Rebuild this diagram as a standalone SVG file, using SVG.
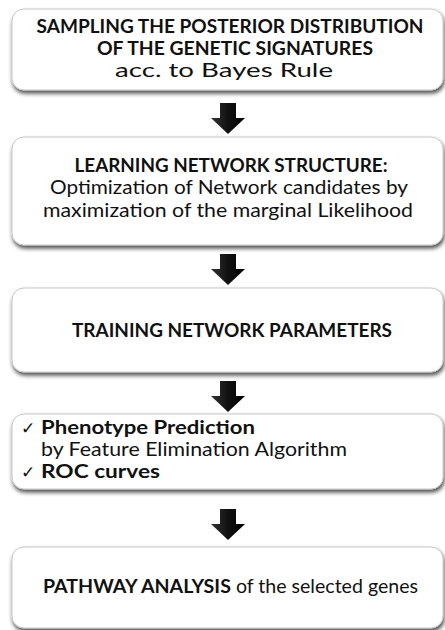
<svg xmlns="http://www.w3.org/2000/svg" width="445" height="630" viewBox="0 0 445 630">
<style>
.box{fill:#fff;stroke:#c8c8c8;stroke-width:1;filter:url(#sh)}
text{font-family:Lato,"Open Sans","Liberation Sans",sans-serif;font-size:19px;fill:#111}
.b{font-weight:bold}
.c{text-anchor:middle}
.chk{font-family:"DejaVu Sans",sans-serif;font-size:17px}
.arr{fill:url(#ag)}
</style>
<defs>
<filter id="sh" x="-5%" y="-10%" width="112%" height="130%">
<feGaussianBlur in="SourceAlpha" stdDeviation="2"/>
<feOffset dx="1" dy="3" result="o"/>
<feComponentTransfer><feFuncA type="linear" slope="0.7"/></feComponentTransfer>
<feMerge><feMergeNode/><feMergeNode in="SourceGraphic"/></feMerge>
</filter>
<linearGradient id="ag" x1="0" y1="0" x2="1" y2="0">
<stop offset="0" stop-color="#333"/>
<stop offset="0.5" stop-color="#111"/>
<stop offset="1" stop-color="#000"/>
</linearGradient>
<path id="arrow" d="M-8,0 H8 V15 H17 L0,31 L-17,15 H-8 Z"/>
</defs>
<rect width="445" height="630" fill="#fff"/>
<g id="n1">
<rect class="box" x="12" y="9" width="431" height="81" rx="12"/>
<text class="b c" x="230" y="33" textLength="387" lengthAdjust="spacingAndGlyphs">SAMPLING THE POSTERIOR DISTRIBUTION</text>
<text class="b c" x="235" y="55" textLength="276" lengthAdjust="spacingAndGlyphs">OF THE GENETIC SIGNATURES</text>
<text class="c" x="224" y="77" textLength="218" lengthAdjust="spacingAndGlyphs">acc. to Bayes Rule</text>
</g>
<g id="n2">
<rect class="box" x="12" y="137" width="431" height="108" rx="12"/>
<text class="b c" x="231" y="172" textLength="313" lengthAdjust="spacingAndGlyphs">LEARNING NETWORK STRUCTURE:</text>
<text class="c" x="229" y="194" textLength="358" lengthAdjust="spacingAndGlyphs">Optimization of Network candidates by</text>
<text class="c" x="228" y="217" textLength="370" lengthAdjust="spacingAndGlyphs">maximization of the marginal Likelihood</text>
</g>
<g id="n3">
<rect class="box" x="12" y="288" width="431" height="84" rx="12"/>
<text class="b c" x="232" y="337" textLength="320" lengthAdjust="spacingAndGlyphs">TRAINING NETWORK PARAMETERS</text>
</g>
<g id="n4">
<rect class="box" x="12" y="414" width="431" height="75" rx="12"/>
<text class="chk" x="21" y="434">✓</text>
<text class="b" x="41" y="434" textLength="214" lengthAdjust="spacingAndGlyphs">Phenotype Prediction</text>
<text x="41" y="456" textLength="306" lengthAdjust="spacingAndGlyphs">by Feature Elimination Algorithm</text>
<text class="chk" x="21" y="478">✓</text>
<text class="b" x="41" y="478" textLength="119" lengthAdjust="spacingAndGlyphs">ROC curves</text>
</g>
<g id="n5">
<rect class="box" x="12" y="547" width="431" height="81" rx="12"/>
<text x="43" y="593" textLength="375" lengthAdjust="spacingAndGlyphs"><tspan class="b">PATHWAY ANALYSIS</tspan> of the selected genes</text>
</g>
<g id="connectors">
<use href="#arrow" class="arr" x="228" y="103"/>
<use href="#arrow" class="arr" x="228" y="254"/>
<use href="#arrow" class="arr" x="228" y="381"/>
<use href="#arrow" class="arr" x="228" y="509"/>
</g>
</svg>
